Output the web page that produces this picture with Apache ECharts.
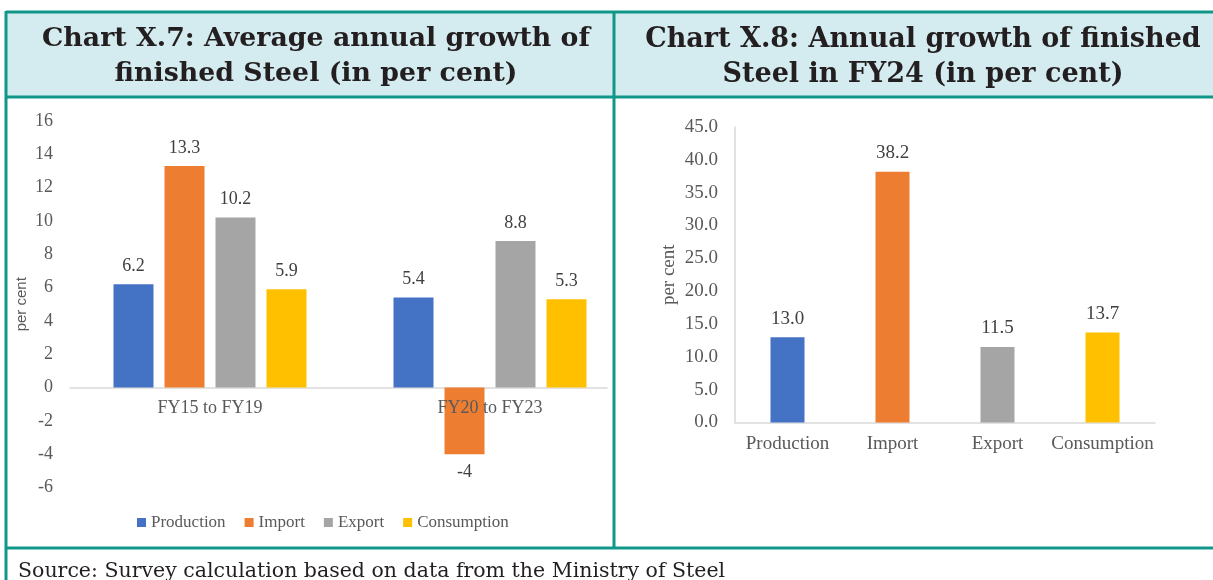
<!DOCTYPE html>
<html>
<head>
<meta charset="utf-8">
<title>Finished steel growth</title>
<script src="https://cdn.jsdelivr.net/npm/echarts@6/dist/echarts.min.js"></script>
<style>
  html, body { margin: 0; padding: 0; background: #ffffff; }
  #chart { width: 1213px; height: 580px; }
</style>
</head>
<body>
<div id="chart"></div>
<script>
// Chart X.7: average annual growth, by period
const periods = ['FY15 to FY19', 'FY20 to FY23'];
const seriesNames = ['Production', 'Import', 'Export', 'Consumption'];
const production = [6.2, 5.4];
const imports = [13.3, -4];
const exports = [10.2, 8.8];
const consumption = [5.9, 5.3];
const leftTicks = { min: -6, max: 16, interval: 2 };

// Chart X.8: annual growth in FY24
const fy24Categories = ['Production', 'Import', 'Export', 'Consumption'];
const fy24Values = [13.0, 38.2, 11.5, 13.7];
const rightTicks = { min: 0, max: 45, interval: 5 };

const colors = ['#4472C4', '#ED7D31', '#A5A5A5', '#FFC000'];
const teal = '#11978a';
const headerFill = '#d4ebef';
const serif = '"Liberation Serif", "Times New Roman", serif';
const titleFont = '"DejaVu Serif", Georgia, serif';
const tickColor = '#595959';
const valueColor = '#404040';

// left plot area
const leftGrid = { left: 70, top: 121, height: 366.5 };
// shift the period labels up from the plot bottom to the zero line
const zeroShift = -leftGrid.height * (0 - leftTicks.min) / (leftTicks.max - leftTicks.min);

const leftGroups = [production, imports, exports, consumption];

const leftSeries = leftGroups.map((vals, i) => ({
  name: seriesNames[i],
  type: 'bar',
  xAxisIndex: 0,
  yAxisIndex: 0,
  barWidth: 40,
  barGap: '27.5%',
  itemStyle: { color: colors[i] },
  data: vals.map(v => ({
    value: v,
    label: { position: v < 0 ? 'bottom' : 'top' }
  })),
  label: {
    show: true,
    distance: 9,
    color: valueColor,
    fontFamily: serif,
    fontSize: 18
  }
}));

const rightSeries = {
  type: 'bar',
  xAxisIndex: 2,
  yAxisIndex: 2,
  barWidth: 34,
  data: fy24Values.map((v, i) => ({ value: v, itemStyle: { color: colors[i] } })),
  label: {
    show: true,
    position: 'top',
    distance: 9,
    color: valueColor,
    fontFamily: serif,
    fontSize: 19,
    formatter: p => p.value.toFixed(1)
  }
};

const chart = echarts.init(document.getElementById('chart'), null, { renderer: 'canvas' });

chart.setOption({
  animation: false,
  backgroundColor: '#ffffff',
  title: [
    {
      text: 'Chart X.7: Average annual growth of\nfinished Steel (in per cent)',
      left: 311,
      top: 17,
      textAlign: 'center',
      textStyle: { fontFamily: titleFont, fontWeight: 'bold', fontSize: 26.8, lineHeight: 35, color: '#231f20' }
    },
    {
      text: 'Chart X.8: Annual growth of finished\nSteel in FY24 (in per cent)',
      left: 918,
      top: 17,
      textAlign: 'center',
      textStyle: { fontFamily: titleFont, fontWeight: 'bold', fontSize: 27, lineHeight: 35, color: '#231f20' }
    }
  ],
  legend: {
    data: seriesNames,
    left: 132,
    top: 509,
    icon: 'rect',
    itemWidth: 9,
    itemHeight: 9,
    itemGap: 19,
    textStyle: { fontFamily: serif, fontSize: 17, color: tickColor }
  },
  grid: [
    { left: leftGrid.left, top: leftGrid.top, width: 560, height: leftGrid.height },
    { left: leftGrid.left, top: leftGrid.top, width: 537, height: leftGrid.height },
    { left: 735, top: 127, width: 420, height: 295.5 }
  ],
  xAxis: [
    {
      // period labels, drawn above the bars; the visible baseline is drawn by the next axis
      gridIndex: 0,
      type: 'category',
      data: periods,
      offset: zeroShift,
      z: 5,
      axisLine: { show: false, onZero: false },
      axisTick: { show: false },
      axisLabel: { margin: 12, color: tickColor, fontFamily: serif, fontSize: 18 }
    },
    {
      // zero baseline of the period chart
      gridIndex: 1,
      type: 'category',
      data: [''],
      axisLine: { show: true, onZero: true, lineStyle: { color: '#d9d9d9', width: 1.5 } },
      axisTick: { show: false },
      axisLabel: { show: false }
    },
    {
      gridIndex: 2,
      type: 'category',
      data: fy24Categories,
      axisLine: { show: true, lineStyle: { color: '#d9d9d9', width: 1.5 } },
      axisTick: { show: false },
      axisLabel: { interval: 0, margin: 12, color: tickColor, fontFamily: serif, fontSize: 19 }
    }
  ],
  yAxis: [
    {
      gridIndex: 0,
      type: 'value',
      min: leftTicks.min,
      max: leftTicks.max,
      interval: leftTicks.interval,
      splitLine: { show: false },
      axisLine: { show: false },
      axisTick: { show: false },
      axisLabel: { margin: 17, color: tickColor, fontFamily: serif, fontSize: 18 },
      name: 'per cent',
      nameLocation: 'middle',
      nameGap: 41,
      nameTextStyle: { fontFamily: '"Liberation Sans", Arial, sans-serif', fontSize: 15, color: tickColor }
    },
    {
      gridIndex: 1,
      type: 'value',
      min: leftTicks.min,
      max: leftTicks.max,
      show: false,
      splitLine: { show: false }
    },
    {
      gridIndex: 2,
      type: 'value',
      min: rightTicks.min,
      max: rightTicks.max,
      interval: rightTicks.interval,
      splitLine: { show: false },
      axisLine: { show: true, lineStyle: { color: '#d9d9d9', width: 1.5 } },
      axisTick: { show: false },
      axisLabel: {
        margin: 17,
        color: tickColor,
        fontFamily: serif,
        fontSize: 19,
        formatter: v => v.toFixed(1)
      },
      name: 'per cent',
      nameLocation: 'middle',
      nameGap: 56,
      nameTextStyle: { fontFamily: serif, fontSize: 19, color: tickColor }
    }
  ],
  graphic: [
    // header band
    { type: 'rect', z: -1, shape: { x: 6, y: 12, width: 1207, height: 85 }, style: { fill: headerFill } },
    // frame lines
    { type: 'line', shape: { x1: 6, y1: 12, x2: 1213, y2: 12 }, style: { stroke: teal, lineWidth: 3 } },
    { type: 'line', shape: { x1: 6, y1: 97, x2: 1213, y2: 97 }, style: { stroke: teal, lineWidth: 3 } },
    { type: 'line', shape: { x1: 6, y1: 548, x2: 1213, y2: 548 }, style: { stroke: teal, lineWidth: 3 } },
    { type: 'line', shape: { x1: 6, y1: 11, x2: 6, y2: 580 }, style: { stroke: teal, lineWidth: 3 } },
    { type: 'line', shape: { x1: 614, y1: 11, x2: 614, y2: 548 }, style: { stroke: teal, lineWidth: 3 } },
    // source note
    {
      type: 'text',
      left: 18,
      top: 561,
      style: {
        text: 'Source: Survey calculation based on data from the Ministry of Steel',
        font: '20.5px "DejaVu Serif", Georgia, serif',
        fill: '#231f20'
      }
    }
  ],
  series: [...leftSeries, rightSeries]
});
</script>
</body>
</html>
